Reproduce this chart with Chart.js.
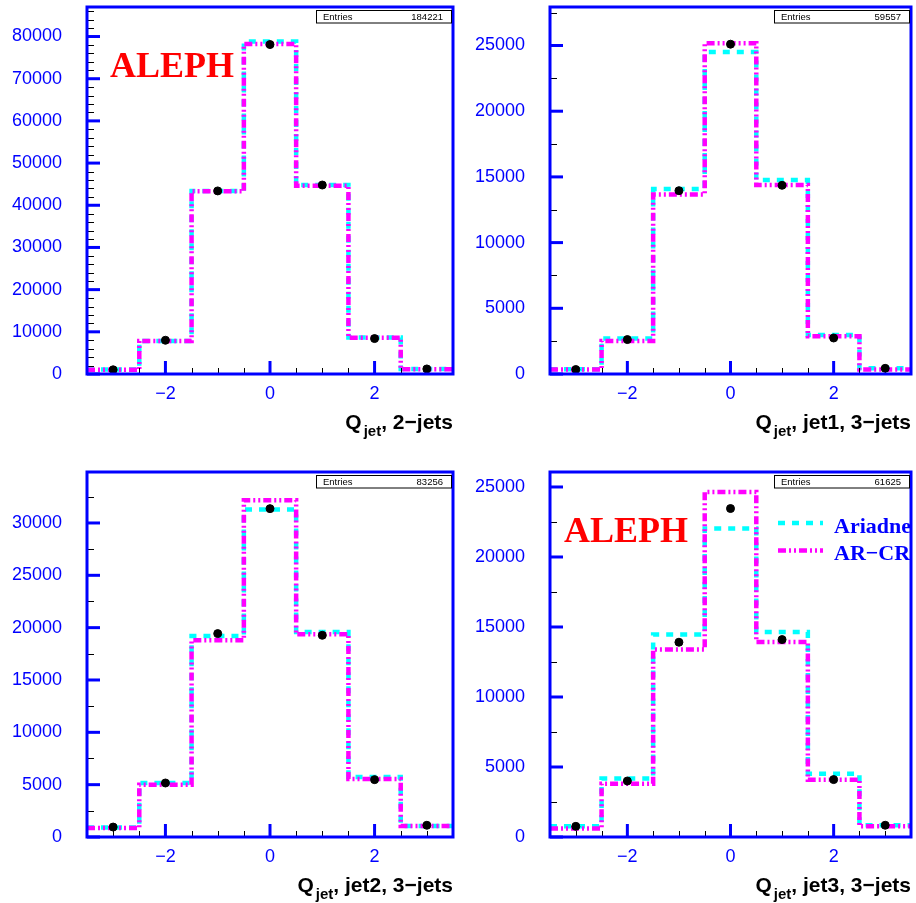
<!DOCTYPE html>
<html>
<head>
<meta charset="utf-8">
<title>Q_jet distributions</title>
<script src="https://cdn.jsdelivr.net/npm/chart.js@4.4.1/dist/chart.umd.min.js"></script>
<style>
  body { margin: 0; background: #fff; }
  #wrap { position: relative; width: 916px; height: 903px; overflow: hidden; }
  canvas { position: absolute; }
</style>
</head>
<body>
<div id="wrap">
  <canvas id="c1" width="458" height="440" style="left:0;top:0"></canvas>
  <canvas id="c2" width="458" height="440" style="left:458px;top:0"></canvas>
  <canvas id="c3" width="458" height="463" style="left:0;top:440px"></canvas>
  <canvas id="c4" width="458" height="463" style="left:458px;top:440px"></canvas>
</div>
<script>
// Bins (charge Q_jet) and axis labels
const binCenters = [-3, -2, -1, 0, 1, 2, 3];
const xTickLabels = [-2, 0, 2];

// 2-jets
const ariadne2j = [1050, 7850, 43400, 78850, 44800, 8650, 1200];
const arcr2j = [1000, 7800, 43300, 78200, 44600, 8600, 1150];
const data2j = [1000, 8000, 43400, 78100, 44800, 8400, 1200];
const yTicks2j = [0, 10000, 20000, 30000, 40000, 50000, 60000, 70000, 80000];

// jet1, 3-jets
const ariadneJ1 = [360, 2700, 14080, 24500, 14760, 2970, 430];
const arcrJ1 = [340, 2520, 13670, 25180, 14380, 2870, 340];
const dataJ1 = [340, 2620, 13950, 25100, 14360, 2740, 430];
const yTicksJ1 = [0, 5000, 10000, 15000, 20000, 25000];

// jet2, 3-jets
const ariadneJ2 = [900, 5160, 19200, 31280, 19590, 5730, 1050];
const arcrJ2 = [860, 5000, 18790, 32170, 19370, 5540, 1050];
const dataJ2 = [950, 5160, 19430, 31370, 19270, 5480, 1120];
const yTicksJ2 = [0, 5000, 10000, 15000, 20000, 25000, 30000];

// jet3, 3-jets
const ariadneJ3 = [760, 4170, 14460, 22030, 14640, 4520, 840];
const arcrJ3 = [600, 3810, 13390, 24640, 13930, 4090, 760];
const dataJ3 = [760, 4000, 13910, 23460, 14100, 4100, 840];
const yTicksJ3 = [0, 5000, 10000, 15000, 20000, 25000];

const sansFont = '"Liberation Sans", Arial, Helvetica, sans-serif';
const serifFont = '"Liberation Serif", "Times New Roman", serif';
Chart.defaults.font.family = sansFont;

function fmt(v) {
  return v < 0 ? '\u2212' + Math.abs(v) : String(v);
}

// histogram outline: left bin edges + closing right edge
function histPoints(values) {
  const pts = binCenters.map((c, i) => ({ x: c - 0.5, y: values[i] }));
  pts.push({ x: binCenters[binCenters.length - 1] + 0.5, y: values[values.length - 1] });
  return pts;
}

function line(ctx, x1, y1, x2, y2) {
  ctx.beginPath();
  ctx.moveTo(x1, y1);
  ctx.lineTo(x2, y2);
  ctx.stroke();
}

// ROOT-like frame, ticks, stats box, title, ALEPH tag and legend
const rootStyle = {
  id: 'rootStyle',
  afterDraw(chart, args, o) {
    const { ctx, chartArea: a, scales: { x, y } } = chart;
    ctx.save();

    // minor ticks
    ctx.strokeStyle = '#000';
    ctx.lineWidth = 1;
    for (let v = o.yMinor; v < y.max; v += o.yMinor) {
      if (o.yTicks.includes(v)) continue;
      const py = Math.round(y.getPixelForValue(v)) + 0.5;
      line(ctx, a.left, py, a.left + 7, py);
    }
    for (let v = x.min + 0.5; v < x.max; v += 0.5) {
      if (xTickLabels.includes(v)) continue;
      const px = Math.round(x.getPixelForValue(v)) + 0.5;
      line(ctx, px, a.bottom, px, a.bottom - 6);
    }

    // major ticks
    ctx.strokeStyle = '#0000ff';
    ctx.lineWidth = 3;
    o.yTicks.forEach(v => {
      const py = y.getPixelForValue(v);
      line(ctx, a.left, py, a.left + 13, py);
    });
    xTickLabels.forEach(v => {
      const px = x.getPixelForValue(v);
      line(ctx, px, a.bottom, px, a.bottom - 13);
    });

    // frame
    ctx.strokeRect(a.left, a.top, a.right - a.left, a.bottom - a.top);

    // stats box
    const bw = 135, bh = 12.5;
    const bx = a.right - 2 - bw, by = a.top + 2.5;
    ctx.fillStyle = '#fff';
    ctx.fillRect(bx, by, bw, bh);
    ctx.strokeStyle = '#000';
    ctx.lineWidth = 1;
    ctx.strokeRect(Math.round(bx) + 0.5, Math.round(by) + 0.5, bw, bh);
    ctx.fillStyle = '#000';
    ctx.font = '9.5px ' + sansFont;
    ctx.textBaseline = 'alphabetic';
    ctx.textAlign = 'left';
    ctx.fillText('Entries', bx + 7, by + 10);
    ctx.textAlign = 'right';
    ctx.fillText(String(o.entries), bx + bw - 8, by + 10);

    // axis title Q_jet, ...
    const big = 'bold 21px ' + sansFont;
    const small = 'bold 15px ' + sansFont;
    ctx.textAlign = 'left';
    ctx.font = big;
    const wQ = ctx.measureText('Q').width;
    const wR = ctx.measureText(o.title).width;
    ctx.font = small;
    const wS = ctx.measureText('jet').width;
    const ty = a.bottom + 55;
    let tx = a.right - (wQ + 2 + wS + wR);
    ctx.font = big;
    ctx.fillText('Q', tx, ty);
    tx += wQ + 2;
    ctx.font = small;
    ctx.fillText('jet', tx, ty + 6.5);
    tx += wS;
    ctx.font = big;
    ctx.fillText(o.title, tx, ty);

    // ALEPH tag
    if (o.aleph) {
      ctx.font = 'bold 36px ' + serifFont;
      ctx.fillStyle = '#ff0000';
      ctx.fillText('ALEPH', a.left + o.aleph, a.top + 70);
    }

    // legend
    if (o.legend) {
      const items = chart.data.datasets.filter(d => d.inLegend).reverse();
      items.forEach((d, i) => {
        const ly = a.top + 51 + i * 27.5;
        ctx.strokeStyle = d.borderColor;
        ctx.lineWidth = d.borderWidth;
        ctx.setLineDash(d.borderDash);
        line(ctx, a.right - 133, ly, a.right - 88, ly);
        ctx.setLineDash([]);
        ctx.font = 'bold 22px ' + serifFont;
        ctx.fillStyle = '#0000ff';
        ctx.fillText(d.label, a.right - 77, ly + 9.5);
      });
    }
    ctx.restore();
  }
};

function makePanel(id, p) {
  return new Chart(document.getElementById(id), {
    type: 'line',
    data: {
      datasets: [
        {
          label: 'Data',
          data: binCenters.map((c, i) => ({ x: c, y: p.data[i] })),
          showLine: false,
          pointRadius: 4,
          pointBackgroundColor: '#000',
          pointBorderColor: '#000'
        },
        {
          label: 'AR\u2212CR',
          inLegend: true,
          data: histPoints(p.arcr),
          stepped: true,
          borderColor: '#ff00ff',
          borderWidth: 4.5,
          borderDash: [8, 3, 2, 3, 2, 3],
          pointRadius: 0,
          fill: false
        },
        {
          label: 'Ariadne',
          inLegend: true,
          data: histPoints(p.ariadne),
          stepped: true,
          borderColor: '#00ffff',
          borderWidth: 4.5,
          borderDash: [7, 7],
          pointRadius: 0,
          fill: false
        }
      ]
    },
    options: {
      responsive: false,
      animation: false,
      devicePixelRatio: 1,
      layout: { padding: { top: p.top, right: p.padRight, left: 0, bottom: 0 } },
      plugins: {
        legend: { display: false },
        tooltip: { enabled: false },
        rootStyle: {
          yTicks: p.yTicks, yMinor: p.yMinor, entries: p.entries,
          title: p.title, aleph: p.aleph, legend: p.legend
        }
      },
      scales: {
        x: {
          type: 'linear',
          min: -3.5,
          max: 3.5,
          grid: { display: false, drawTicks: false },
          border: { display: false },
          afterBuildTicks: s => { s.ticks = xTickLabels.map(v => ({ value: v })); },
          afterFit: s => { s.height = 66; s.paddingLeft = 0; s.paddingRight = 0; },
          ticks: {
            color: '#0000ff',
            font: { size: 18 },
            padding: 9,
            maxRotation: 0,
            callback: v => fmt(v)
          }
        },
        y: {
          min: 0,
          max: p.yMax,
          grid: { display: false, drawTicks: false },
          border: { display: false },
          afterBuildTicks: s => { s.ticks = p.yTicks.map(v => ({ value: v })); },
          afterFit: s => { s.width = p.yWidth; s.paddingTop = 0; s.paddingBottom = 0; },
          ticks: {
            color: '#0000ff',
            font: { size: 18 },
            padding: 25,
            callback: v => fmt(v)
          }
        }
      }
    },
    plugins: [rootStyle]
  });
}

makePanel('c1', {
  ariadne: ariadne2j, arcr: arcr2j, data: data2j, yTicks: yTicks2j,
  yMax: 87000, yMinor: 2000, entries: 184221, title: ', 2\u2212jets',
  top: 7, padRight: 5, yWidth: 87, aleph: 23, legend: false
});
makePanel('c2', {
  ariadne: ariadneJ1, arcr: arcrJ1, data: dataJ1, yTicks: yTicksJ1,
  yMax: 27930, yMinor: 2500, entries: 59557, title: ', jet1, 3\u2212jets',
  top: 7, padRight: 1, yWidth: 92, aleph: 0, legend: false
});
makePanel('c3', {
  ariadne: ariadneJ2, arcr: arcrJ2, data: dataJ2, yTicks: yTicksJ2,
  yMax: 34870, yMinor: 2500, entries: 83256, title: ', jet2, 3\u2212jets',
  top: 32, padRight: 5, yWidth: 87, aleph: 0, legend: false
});
makePanel('c4', {
  ariadne: ariadneJ3, arcr: arcrJ3, data: dataJ3, yTicks: yTicksJ3,
  yMax: 26070, yMinor: 2500, entries: 61625, title: ', jet3, 3\u2212jets',
  top: 32, padRight: 1, yWidth: 92, aleph: 14, legend: true
});
</script>
</body>
</html>
